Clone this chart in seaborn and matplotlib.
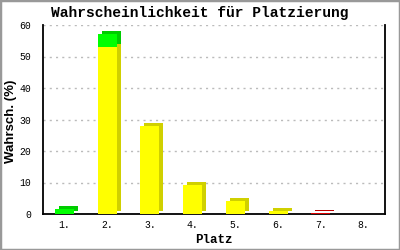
import matplotlib
matplotlib.use("Agg")
import matplotlib.pyplot as plt
import matplotlib.transforms as mtrans
from matplotlib.patches import Rectangle
import seaborn as sns
import pandas as pd

places = ["1.", "2.", "3.", "4.", "5.", "6.", "7.", "8."]
yellow = [0, 53, 28, 9.2, 4.2, 0.8, 0, 0]
green = [1.5, 4, 0, 0, 0, 0, 0, 0]
red = [0, 0, 0, 0, 0, 0, 0.3, 0]
yticks = [0, 10, 20, 30, 40, 50, 60]

sns.set_theme(style="white")
plt.rcParams["font.family"] = ["Liberation Mono", "DejaVu Sans Mono"]
for k in ["text.color", "axes.labelcolor", "xtick.color", "ytick.color"]:
    plt.rcParams[k] = "black"

fig = plt.figure(figsize=(4, 2.5), dpi=100)
ax = fig.add_axes([0.1075, 0.144, 0.855, 0.756])

df = pd.DataFrame({"Platz": places, "yellow": yellow, "green": green, "red": red})
df["total_y"] = df["yellow"]
df["total_g"] = df["yellow"] + df["green"]
df["total_r"] = df["red"]

W = 0.45
layers = [("total_g", "#00FF00", "#00CC00"),
          ("total_y", "#FFFF00", "#D0D000"),
          ("total_r", "#DD0000", "#BB0000")]

# depth shadows first
off = mtrans.ScaledTranslation(4 / 100, 3 / 100, fig.dpi_scale_trans)
for col, front, side in layers:
    n0 = len(ax.patches)
    sns.barplot(data=df, x="Platz", y=col, color=side, width=W, ax=ax,
                saturation=1, zorder=2, linewidth=0)
    for p in ax.patches[n0:]:
        p.set_transform(ax.transData + off)
        p.set_facecolor(side)
        p.set_clip_on(False)
for col, front, side in layers:
    n0 = len(ax.patches)
    sns.barplot(data=df, x="Platz", y=col, color=front, width=W, ax=ax,
                saturation=1, zorder=3, linewidth=0)
    for p in ax.patches[n0:]:
        p.set_facecolor(front)

for p in ax.patches:
    if p.get_height() <= 0:
        p.set_visible(False)

ax.set_xlim(-0.5, 7.5)
ax.set_ylim(0, 60)
ax.set_yticks(yticks)
ax.set_yticklabels([str(v) for v in yticks], fontsize=7)
ax.tick_params(axis="y", direction="inout", length=9, width=1.3, color="black", pad=4)
ax.tick_params(axis="x", length=0, labelsize=7, pad=4)
ax.yaxis.grid(True, linestyle=(0, (1.5, 3)), color="#BBBBBB", linewidth=1, zorder=0)
ax.set_axisbelow(True)
for s in ["left", "bottom", "right"]:
    ax.spines[s].set_visible(True)
    ax.spines[s].set_color("black")
    ax.spines[s].set_linewidth(1.3)
ax.spines["top"].set_visible(False)

ax.set_xlabel("Platz", fontsize=9, fontweight="bold")
ax.xaxis.set_label_coords(0.5, -0.105)
ax.set_ylabel("Wahrsch. (%)", fontsize=9.5, fontweight="bold", family="Liberation Sans")
ax.yaxis.set_label_coords(-0.076, 0.49)
fig.text(0.5, 0.948, "Wahrscheinlichkeit für Platzierung", ha="center", va="center",
         fontsize=10.5, fontweight="bold")

fig.patches.append(Rectangle((0, 0), 1, 1, transform=fig.transFigure, fill=False,
                             edgecolor="#999999", linewidth=2.5, zorder=10))
fig.savefig("out.png", dpi=100, facecolor="white")
